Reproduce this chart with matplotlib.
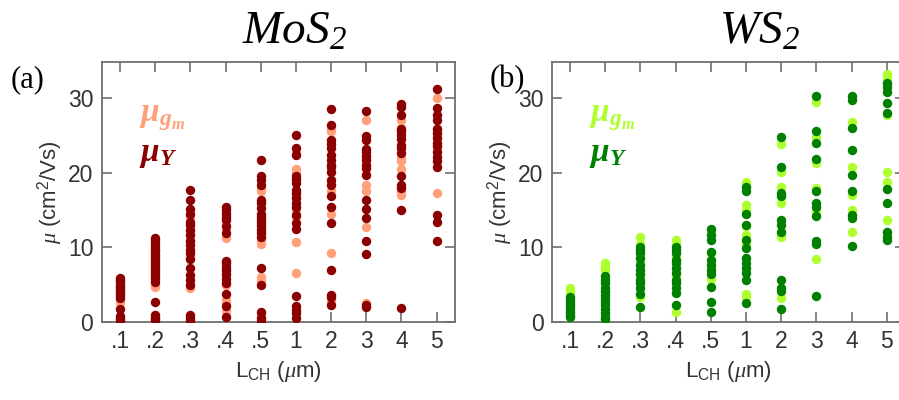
import matplotlib
matplotlib.use("Agg")
import matplotlib.pyplot as plt

plt.rcParams['font.family'] = ['Liberation Sans', 'DejaVu Sans']
plt.rcParams['mathtext.fontset'] = 'custom'
plt.rcParams['mathtext.rm'] = 'Liberation Sans'
plt.rcParams['mathtext.it'] = 'Liberation Serif:italic'
plt.rcParams['mathtext.bf'] = 'Liberation Serif:bold:italic'
plt.rcParams['mathtext.sf'] = 'Liberation Serif:italic'

# channel length tick labels
tick_labels = ['.1', '.2', '.3', '.4', '.5', '1', '2', '3', '4', '5']

# MoS2 mobility values per channel length (cm^2/Vs)
mos2_y = [
    [5.9, 5.6, 5.3, 5.0, 4.7, 4.4, 4.1, 3.8, 3.5, 3.2, 1.8, 0.8, 0.4, 0.1],
    [11.3, 11.0, 10.6, 10.2, 9.8, 9.5, 9.1, 8.7, 8.3, 8.0, 7.6, 7.2, 6.8, 6.5, 6.1, 5.7, 5.3, 2.7, 0.9, 0.6, 0.3],
    [17.7, 16.3, 15.1, 14.5, 13.4, 13.0, 12.3, 11.6, 10.8, 10.3, 9.6, 9.2, 8.4, 7.2, 6.3, 5.6, 5.0, 0.9, 0.5, 0.1],
    [15.4, 15.0, 14.5, 14.1, 13.7, 12.9, 11.9, 8.2, 7.9, 7.4, 7.0, 6.4, 5.8, 5.2, 3.8, 2.1, 0.7],
    [21.7, 19.5, 19.0, 18.4, 16.3, 15.9, 15.2, 14.5, 14.1, 13.7, 13.2, 12.8, 12.3, 11.9, 11.4, 7.2, 5.0, 1.4, 0.5, 0.1],
    [25.0, 23.3, 22.4, 19.6, 19.2, 18.6, 17.7, 17.2, 16.6, 15.9, 15.4, 14.3, 13.2, 12.5, 3.5, 2.1, 1.6, 1.2, 0.6],
    [28.5, 26.4, 24.3, 23.8, 23.3, 22.4, 21.7, 21.0, 20.7, 20.1, 19.0, 18.3, 16.8, 15.4, 13.3, 7.0, 3.6, 3.3, 2.3],
    [28.2, 24.9, 24.4, 23.2, 22.8, 22.2, 21.7, 21.0, 20.6, 19.7, 16.3, 15.1, 13.9, 10.9, 9.1, 2.3, 2.0],
    [29.2, 28.8, 27.7, 25.8, 25.5, 25.0, 24.5, 23.7, 23.3, 22.6, 19.5, 18.3, 17.9, 15.0, 1.9],
    [31.2, 28.6, 27.7, 27.1, 25.8, 25.3, 24.6, 23.9, 23.5, 22.8, 22.1, 21.5, 20.7, 14.3, 13.4, 10.8],
]
mos2_gm = [
    [2.6, 3.0, 5.5, 4.2, 0.6, 0.2],
    [4.7, 5.0, 1.0, 0.5, 9.0, 7.0],
    [4.5, 8.5, 9.0, 11.0, 12.0, 14.0, 0.3],
    [11.3, 5.0, 3.0, 2.5, 1.5, 12.5, 6.0],
    [18.0, 17.6, 10.5, 11.0, 6.0, 5.5, 1.0],
    [22.7, 20.5, 20.0, 15.0, 14.0, 10.7, 6.6, 17.0],
    [26.0, 25.5, 18.5, 14.5, 9.2, 2.8, 17.5],
    [27.0, 18.3, 17.5, 12.7, 2.5, 20.5],
    [27.0, 26.0, 21.5, 20.5, 17.0, 17.5, 22.0],
    [30.0, 26.0, 25.0, 24.0, 17.2, 23.0],
]

# WS2 mobility values per channel length (cm^2/Vs)
ws2_y = [
    [3.4, 3.0, 2.7, 2.4, 2.1, 1.7, 1.4, 0.9, 0.7],
    [6.2, 5.6, 5.2, 4.6, 4.2, 3.6, 3.2, 2.7, 2.3, 1.8, 1.2, 0.7, 0.4],
    [10.1, 9.6, 9.2, 8.5, 7.6, 7.0, 6.4, 5.6, 5.2, 4.6, 3.8, 2.0],
    [10.1, 9.6, 9.3, 8.3, 7.9, 7.2, 6.5, 5.6, 5.2, 4.5, 3.9, 2.3],
    [12.5, 11.7, 11.0, 9.4, 8.3, 7.6, 7.0, 6.4, 4.7, 2.7, 1.3],
    [18.1, 17.5, 14.4, 13.0, 11.0, 9.9, 8.5, 7.9, 7.2, 6.5, 5.6, 2.5],
    [24.8, 20.8, 17.3, 16.8, 13.7, 13.0, 12.1, 5.6, 4.5, 4.2, 1.8],
    [30.3, 25.6, 24.0, 21.8, 17.6, 15.9, 15.4, 14.2, 10.9, 10.5, 3.5],
    [30.2, 29.7, 26.0, 23.0, 19.7, 17.6, 14.3, 13.9, 10.2],
    [32.0, 31.4, 30.8, 29.3, 28.0, 17.8, 15.9, 12.1, 11.4, 11.0],
]
ws2_gm = [
    [4.5, 4.2, 3.7, 1.2],
    [7.9, 7.4, 7.0],
    [11.4, 10.5, 8.1, 6.0, 3.4],
    [11.0, 10.5, 8.7, 7.0, 6.1, 1.4],
    [12.1, 9.2, 7.2, 5.8],
    [18.7, 15.7, 15.0, 12.8, 11.7, 10.4, 3.8, 3.4, 7.0],
    [23.8, 20.1, 18.1, 15.9, 11.7, 3.2, 11.4],
    [29.4, 24.7, 21.3, 18.0, 14.8, 8.4],
    [26.8, 20.8, 17.0, 15.0, 12.1],
    [33.2, 32.6, 20.1, 18.7, 13.7, 11.9, 27.7],
]

panels = [
    (mos2_gm, mos2_y, '#FFA07A', '#8B0000', 'MoS', '(a)', 0.328, 0.012),
    (ws2_gm, ws2_y, '#ADFF2F', '#008000', 'WS', '(b)', 0.845, 0.545),
]

fig = plt.figure(figsize=(8.99, 4.0), dpi=100)
axes = [fig.add_axes([0.1131, 0.195, 0.393, 0.65]),
        fig.add_axes([0.6137, 0.195, 0.393, 0.65])]

gray = '#707070'
for ax, (gm, yy, light, dark, title, tag, tx, gx) in zip(axes, panels):
    for i, vals in enumerate(gm):
        ax.scatter([i + 1] * len(vals), vals, s=46, color=light, linewidths=0, zorder=2)
    for i, vals in enumerate(yy):
        ax.scatter([i + 1] * len(vals), vals, s=46, color=dark, linewidths=0, zorder=3)

    ax.set_xlim(0.48, 10.52)
    ax.set_ylim(0, 34.8)
    ax.set_xticks(range(1, 11))
    ax.set_xticklabels(tick_labels)
    ax.set_yticks([0, 10, 20, 30])
    ax.tick_params(direction='in', length=7, width=1.2, color=gray,
                   top=True, right=True, labelsize=16.5, labelcolor='#333333', pad=6)
    for sp in ax.spines.values():
        sp.set_color(gray)
        sp.set_linewidth(1.3)

    ax.set_xlabel(r'L$_{\rm CH}$ ($\mu$m)', fontsize=16, color='#333333', labelpad=4)
    ax.set_ylabel(r'$\mu$ (cm$^2$/Vs)', fontsize=16, color='#333333', labelpad=2)

    ax.text(0.105, 0.785, r'$\mathbf{\mu_{g_m}}$', transform=ax.transAxes,
            fontsize=24, color=light, ha='left', va='center')
    ax.text(0.105, 0.645, r'$\mathbf{\mu_Y}$', transform=ax.transAxes,
            fontsize=24, color=dark, ha='left', va='center')

    fig.text(tx, 0.92, title + r'$_{\mathsf{2}}$', fontsize=34, family='Liberation Serif',
             style='italic', ha='center', va='center', color='black')
    fig.text(gx, 0.8, tag, fontsize=22, family='Liberation Serif',
             ha='left', va='center', color='black')

fig.savefig('out.png', dpi=100)
